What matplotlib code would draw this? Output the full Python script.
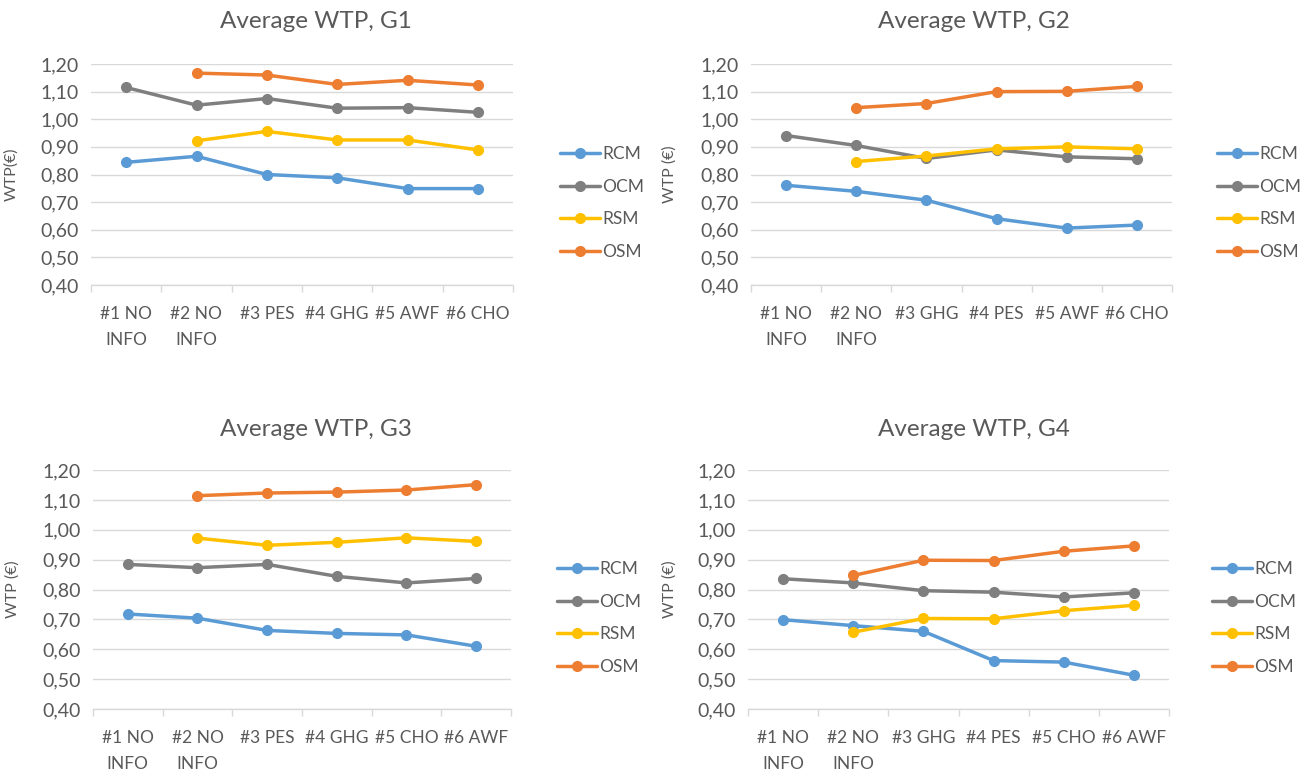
import numpy as np
import matplotlib.pyplot as plt
from matplotlib.ticker import FixedLocator, FuncFormatter

plt.rcParams['font.family'] = ['Lato', 'DejaVu Sans']

series = ["RCM", "OCM", "RSM", "OSM"]
cores = {"RCM": "#5B9BD5", "OCM": "#7F7F7F", "RSM": "#FFC000", "OSM": "#ED7D31"}
nan = np.nan

cat_g1 = ["#1 NO\nINFO", "#2 NO\nINFO", "#3 PES", "#4 GHG", "#5 AWF", "#6 CHO"]
cat_g2 = ["#1 NO\nINFO", "#2 NO\nINFO", "#3 GHG", "#4 PES", "#5 AWF", "#6 CHO"]
cat_g3 = ["#1 NO\nINFO", "#2 NO\nINFO", "#3 PES", "#4 GHG", "#5 CHO", "#6 AWF"]
cat_g4 = ["#1 NO\nINFO", "#2 NO\nINFO", "#3 GHG", "#4 PES", "#5 CHO", "#6 AWF"]

g1_rcm = [0.844, 0.866, 0.800, 0.788, 0.749, 0.749]
g1_ocm = [1.115, 1.051, 1.075, 1.040, 1.042, 1.025]
g1_rsm = [nan, 0.922, 0.956, 0.925, 0.925, 0.889]
g1_osm = [nan, 1.167, 1.160, 1.126, 1.141, 1.124]

g2_rcm = [0.761, 0.739, 0.707, 0.640, 0.606, 0.617]
g2_ocm = [0.941, 0.905, 0.858, 0.889, 0.864, 0.857]
g2_rsm = [nan, 0.847, 0.867, 0.893, 0.900, 0.893]
g2_osm = [nan, 1.042, 1.057, 1.100, 1.101, 1.119]

g3_rcm = [0.718, 0.704, 0.663, 0.653, 0.648, 0.610]
g3_ocm = [0.884, 0.873, 0.884, 0.844, 0.822, 0.837]
g3_rsm = [nan, 0.972, 0.948, 0.958, 0.973, 0.961]
g3_osm = [nan, 1.114, 1.123, 1.126, 1.133, 1.151]

g4_rcm = [0.699, 0.679, 0.660, 0.562, 0.557, 0.513]
g4_ocm = [0.836, 0.822, 0.796, 0.791, 0.775, 0.789]
g4_rsm = [nan, 0.657, 0.703, 0.702, 0.729, 0.747]
g4_osm = [nan, 0.847, 0.898, 0.897, 0.928, 0.946]

W, H = 1305, 778
fig = plt.figure(figsize=(W / 100, H / 100), dpi=100)

# (x0, x1, ytop, ybot) da area do grafico em pixels, titulo, rotulo y, legenda
paineis = [
    ((91, 513, 64, 285), "Average WTP, G1", 316, 22, "WTP(€)", 18, cat_g1,
     [g1_rcm, g1_ocm, g1_rsm, g1_osm], (553, 203)),
    ((751, 1172, 64, 285), "Average WTP, G2", 974, 22, "WTP (€)", 677, cat_g2,
     [g2_rcm, g2_ocm, g2_rsm, g2_osm], (1210, 203)),
    ((93, 511, 470, 709), "Average WTP, G3", 316, 430, "WTP (€)", 20, cat_g3,
     [g3_rcm, g3_ocm, g3_rsm, g3_osm], (550, 618)),
    ((748, 1169, 470, 709), "Average WTP, G4", 974, 430, "WTP (€)", 677, cat_g4,
     [g4_rcm, g4_ocm, g4_rsm, g4_osm], (1205, 618)),
]

texto = "#595959"
grade = "#D9D9D9"

for (x0, x1, yt, yb), titulo, tx, ty, ylab, yl_x, cats, dados, (lx, ly) in paineis:
    ax = fig.add_axes([x0 / W, 1 - yb / H, (x1 - x0) / W, (yb - yt) / H])
    x = np.arange(len(cats))
    for nome, vals in zip(series, dados):
        ax.plot(x, vals, color=cores[nome], lw=2.5, marker="o", ms=7,
                label=nome, solid_capstyle="round", clip_on=False)
    ax.set_xlim(-0.5, len(cats) - 0.5)
    ax.set_ylim(0.4, 1.2)
    ax.yaxis.set_major_locator(FixedLocator(np.arange(0.4, 1.21, 0.1)))
    ax.yaxis.set_major_formatter(FuncFormatter(lambda v, p: f"{v:.2f}".replace(".", ",")))
    ax.grid(axis="y", color=grade, lw=1)
    ax.set_axisbelow(True)
    for s in ["top", "right", "left"]:
        ax.spines[s].set_visible(False)
    ax.spines["bottom"].set_color(grade)
    ax.spines["bottom"].set_linewidth(1)
    ax.set_xticks(x)
    ax.set_xticklabels(cats, fontsize=12.5, color=texto, linespacing=1.75)
    ax.set_xticks(np.arange(-0.5, len(cats)), minor=True)
    ax.tick_params(axis="x", which="major", length=0, pad=15)
    ax.tick_params(axis="x", which="minor", length=5, color=grade, width=1)
    ax.tick_params(axis="y", length=0, labelsize=14, labelcolor=texto, pad=9)
    ax.set_ylabel(ylab, fontsize=11.5, color=texto)
    ax.yaxis.set_label_coords((yl_x - x0) / (x1 - x0), 0.5)
    fig.text(tx / W, 1 - ty / H, titulo, fontsize=17.5, color=texto,
             ha="center", va="center")
    ax.legend(loc="center left", bbox_to_anchor=(lx / W, 1 - ly / H),
              bbox_transform=fig.transFigure, frameon=False, fontsize=12.5,
              labelcolor=texto, handlelength=2.3, handletextpad=0.15,
              labelspacing=0.95, borderaxespad=0)

fig.savefig("out.png", dpi=100)
